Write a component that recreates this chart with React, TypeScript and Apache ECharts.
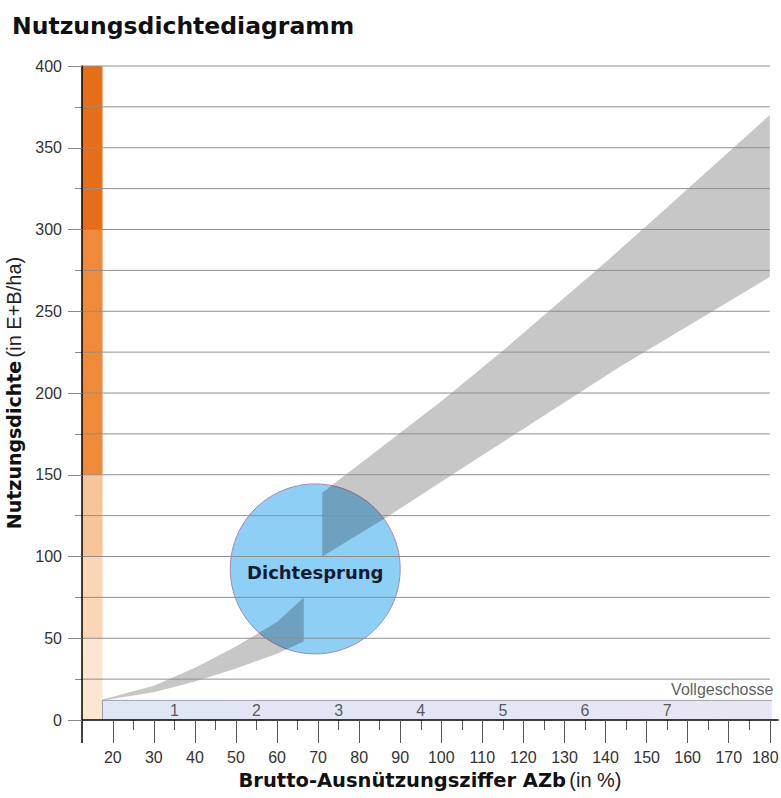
import React, { useEffect, useRef } from "react";
import * as echarts from "echarts";

// ---- data ----
const xTickValues = [20, 30, 40, 50, 60, 70, 80, 90, 100, 110, 120, 130, 140, 150, 160, 170, 180];
const xMinorTickValues = [25, 35, 45, 55, 65, 75, 85, 95, 105, 115, 125, 135, 145, 155, 165, 175];
const yGridValues = [25, 50, 75, 100, 125, 150, 175, 200, 225, 250, 275, 300, 325, 350, 375, 400];
const densitySteps = [0, 50, 100, 150, 300, 400];
const barAzb = [12.5, 17.5];
const storeyNumbers = [1, 2, 3, 4, 5, 6, 7];
const storeyAzb = [35, 55, 75, 95, 115, 135, 155];
const storeyLabelDensity = 6;
const storeyBand = [17.5, 180.5, 0, 12];
const storeyTitlePos = [181, 18.5];
const lowBandUpper = [[17.5, 12.5], [30, 21], [40, 32], [50, 45], [60, 60], [66.5, 75]];
const lowBandLower = [[17.5, 12], [30, 17], [40, 23.5], [50, 31.5], [60, 40.5], [66.5, 48]];
const highBandUpper = [[71, 139], [100, 195], [116, 228], [140, 280], [153, 309], [180, 370]];
const highBandLower = [[71, 100], [87, 124.5], [110, 162], [143.5, 216], [180, 271]];
const jumpCenter = [69.3, 92.4];
const gridEnd = [12.5, 180];
const lastXTick = 180;

// ---- styles ----
const densityColors = ["#fde6d1", "#fad6b6", "#f8c59a", "#f08a3b", "#e66e18"];

export default function App() {
  const ref = useRef<HTMLDivElement>(null);
  useEffect(() => {
    if (!ref.current) return;
    const chart = echarts.init(ref.current, undefined, { renderer: "svg" });
    const bands = [
      lowBandUpper.concat(lowBandLower.slice().reverse()),
      highBandUpper.concat(highBandLower.slice().reverse()),
    ];
    const barData = densitySteps.slice(0, -1).map((v, i) => [v, densitySteps[i + 1]]);
    const option: any = {
      animation: false,
      backgroundColor: "#ffffff",
      title: {
        text: "Nutzungsdichtediagramm",
        left: 7,
        top: 9,
        textStyle: { fontFamily: "DejaVu Sans", fontWeight: "bold", fontSize: 23.5, color: "#111111" },
      },
      grid: { left: 82, right: 3, top: 66, bottom: 78, containLabel: false, outerBoundsMode: "none" },
      xAxis: [
        {
          type: "value",
          position: "bottom",
          min: 12.5,
          max: 182,
          z: 10,
          axisLine: { show: true, onZero: false, lineStyle: { color: "#000000", width: 1.5 } },
          axisTick: { show: true, customValues: xTickValues, length: 23, lineStyle: { color: "#555555", width: 1 } },
          axisLabel: {
            show: true,
            customValues: xTickValues,
            fontSize: 16,
            color: "#333333",
            margin: 29,
            fontFamily: "Liberation Sans",
            formatter: (v: number) => (v === lastXTick ? "{last|" + v + "}" : String(v)),
            rich: {
              last: {
                fontSize: 16,
                color: "#333333",
                fontFamily: "Liberation Sans",
                padding: [0, 9, 0, 0],
              },
            },
          },
          splitLine: { show: false },
          name: "{b|Brutto-Ausnützungsziffer AZb} {r|(in %)}",
          nameLocation: "middle",
          nameGap: 50,
          nameTextStyle: {
            rich: {
              b: { fontFamily: "DejaVu Sans", fontWeight: "bold", fontSize: 19.5, color: "#111111" },
              r: { fontFamily: "Liberation Sans", fontSize: 20, color: "#222222" },
            },
          },
        },
        {
          type: "value",
          position: "bottom",
          offset: 0,
          min: 12.5,
          max: 182,
          axisLine: { show: false },
          axisTick: { show: true, customValues: xMinorTickValues, length: 10, lineStyle: { color: "#555555", width: 1 } },
          axisLabel: { show: false },
          splitLine: { show: false },
        },
      ],
      yAxis: [
        {
          type: "value",
          position: "left",
          min: 0,
          max: 400,
          interval: 50,
          z: 10,
          axisLine: { show: true, lineStyle: { color: "#000000", width: 1.5 } },
          axisTick: { show: true, length: 14, lineStyle: { color: "#888888", width: 1 } },
          axisLabel: { fontSize: 16, color: "#333333", margin: 20, fontFamily: "Liberation Sans" },
          splitLine: { show: false },
          name: "{b|Nutzungsdichte} {r|(in E+B/ha)}",
          nameLocation: "middle",
          nameRotate: 90,
          nameGap: 53,
          nameTextStyle: {
            rich: {
              b: { fontFamily: "DejaVu Sans", fontWeight: "bold", fontSize: 19, color: "#111111" },
              r: { fontFamily: "Liberation Sans", fontSize: 20, color: "#222222" },
            },
          },
        },
        {
          type: "value",
          position: "left",
          offset: 0,
          min: 0,
          max: 400,
          interval: 25,
          axisLine: { show: false },
          axisTick: { show: true, length: 7, lineStyle: { color: "#888888", width: 1 } },
          axisLabel: { show: false },
          splitLine: { show: false },
        },
      ],
      series: [
        {
          type: "custom",
          name: "Dichtestufen",
          z: 1,
          silent: true,
          data: barData,
          renderItem: (params: any, api: any) => {
            const y0 = api.value(0);
            const y1 = api.value(1);
            const p0 = api.coord([barAzb[0], y1]);
            const p1 = api.coord([barAzb[1], y0]);
            return {
              type: "rect",
              shape: { x: p0[0], y: p0[1], width: p1[0] - p0[0], height: p1[1] - p0[1] },
              style: { fill: densityColors[params.dataIndex] },
            };
          },
        },
        {
          type: "custom",
          name: "Vollgeschosse",
          z: 1,
          silent: true,
          data: [storeyBand],
          renderItem: (params: any, api: any) => {
            const tl = api.coord([api.value(0), api.value(3)]);
            const br = api.coord([api.value(1), api.value(2)]);
            return {
              type: "group",
              children: [
                {
                  type: "rect",
                  shape: { x: tl[0], y: tl[1], width: br[0] - tl[0], height: br[1] - tl[1] },
                  style: {
                    fill: new echarts.graphic.LinearGradient(0, 0, 1, 0, [
                      { offset: 0, color: "#dfe6f6" },
                      { offset: 1, color: "#e9e5f3" },
                    ]),
                  },
                },
                {
                  type: "polyline",
                  shape: { points: [[tl[0], br[1]], [tl[0], tl[1]], [br[0], tl[1]]] },
                  style: { stroke: "#a0a0a8", lineWidth: 1, fill: "none" },
                },
              ],
            };
          },
        },
        {
          type: "custom",
          name: "Achse",
          z: 9,
          silent: true,
          data: [[barAzb[0], 0]],
          renderItem: (params: any, api: any) => {
            const p = api.coord([api.value(0), api.value(1)]);
            return {
              type: "line",
              shape: { x1: p[0], y1: p[1], x2: p[0], y2: p[1] + 23 },
              style: { stroke: "#000000", lineWidth: 1.5 },
            };
          },
        },
        {
          type: "scatter",
          name: "Dichtesprung",
          z: 2,
          silent: true,
          data: [jumpCenter],
          symbol: "circle",
          symbolSize: 170,
          itemStyle: { color: "#8dcff5", borderColor: "#a488bb", borderWidth: 1, opacity: 1 },
          label: {
            show: true,
            position: "inside",
            formatter: "Dichtesprung",
            fontFamily: "DejaVu Sans",
            fontWeight: "bold",
            fontSize: 18,
            color: "#141b33",
            offset: [0, 4],
          },
          emphasis: { disabled: true },
        },
        {
          type: "custom",
          name: "Band",
          z: 3,
          silent: true,
          data: [[0], [1]],
          renderItem: (params: any, api: any) => {
            const pts = bands[params.dataIndex].map((p) => api.coord(p));
            return {
              type: "polygon",
              shape: { points: pts },
              style: { fill: "rgba(0,0,0,0.22)" },
            };
          },
        },
        {
          type: "custom",
          name: "Raster",
          z: 4,
          silent: true,
          data: yGridValues.map((v) => [v]),
          renderItem: (params: any, api: any) => {
            const v = api.value(0);
            const a = api.coord([gridEnd[0], v]);
            const b = api.coord([gridEnd[1], v]);
            return {
              type: "line",
              shape: { x1: a[0], y1: a[1], x2: b[0], y2: b[1] },
              style: { stroke: "#8e8e8e", lineWidth: 1 },
            };
          },
        },
        {
          type: "scatter",
          name: "Geschosse",
          z: 5,
          silent: true,
          data: storeyNumbers.map((n, i) => [storeyAzb[i], storeyLabelDensity, n]),
          symbolSize: 1,
          itemStyle: { color: "rgba(0,0,0,0)" },
          label: {
            show: true,
            position: "inside",
            formatter: (p: any) => String(p.value[2]),
            fontFamily: "Liberation Sans",
            fontSize: 16,
            color: "#333333",
          },
          emphasis: { disabled: true },
        },
        {
          type: "scatter",
          name: "VollgeschosseTitel",
          z: 5,
          silent: true,
          data: [storeyTitlePos],
          symbolSize: 1,
          itemStyle: { color: "rgba(0,0,0,0)" },
          label: {
            show: true,
            position: "left",
            distance: 0,
            formatter: "Vollgeschosse",
            fontFamily: "Liberation Sans",
            fontSize: 16,
            color: "#333333",
          },
          emphasis: { disabled: true },
        },
      ],
    };
    chart.setOption(option);
    return () => chart.dispose();
  }, []);
  return (
    <div
      ref={ref}
      style={{ position: "absolute", left: 0, top: 0, width: 781, height: 798, background: "#ffffff" }}
    />
  );
}
